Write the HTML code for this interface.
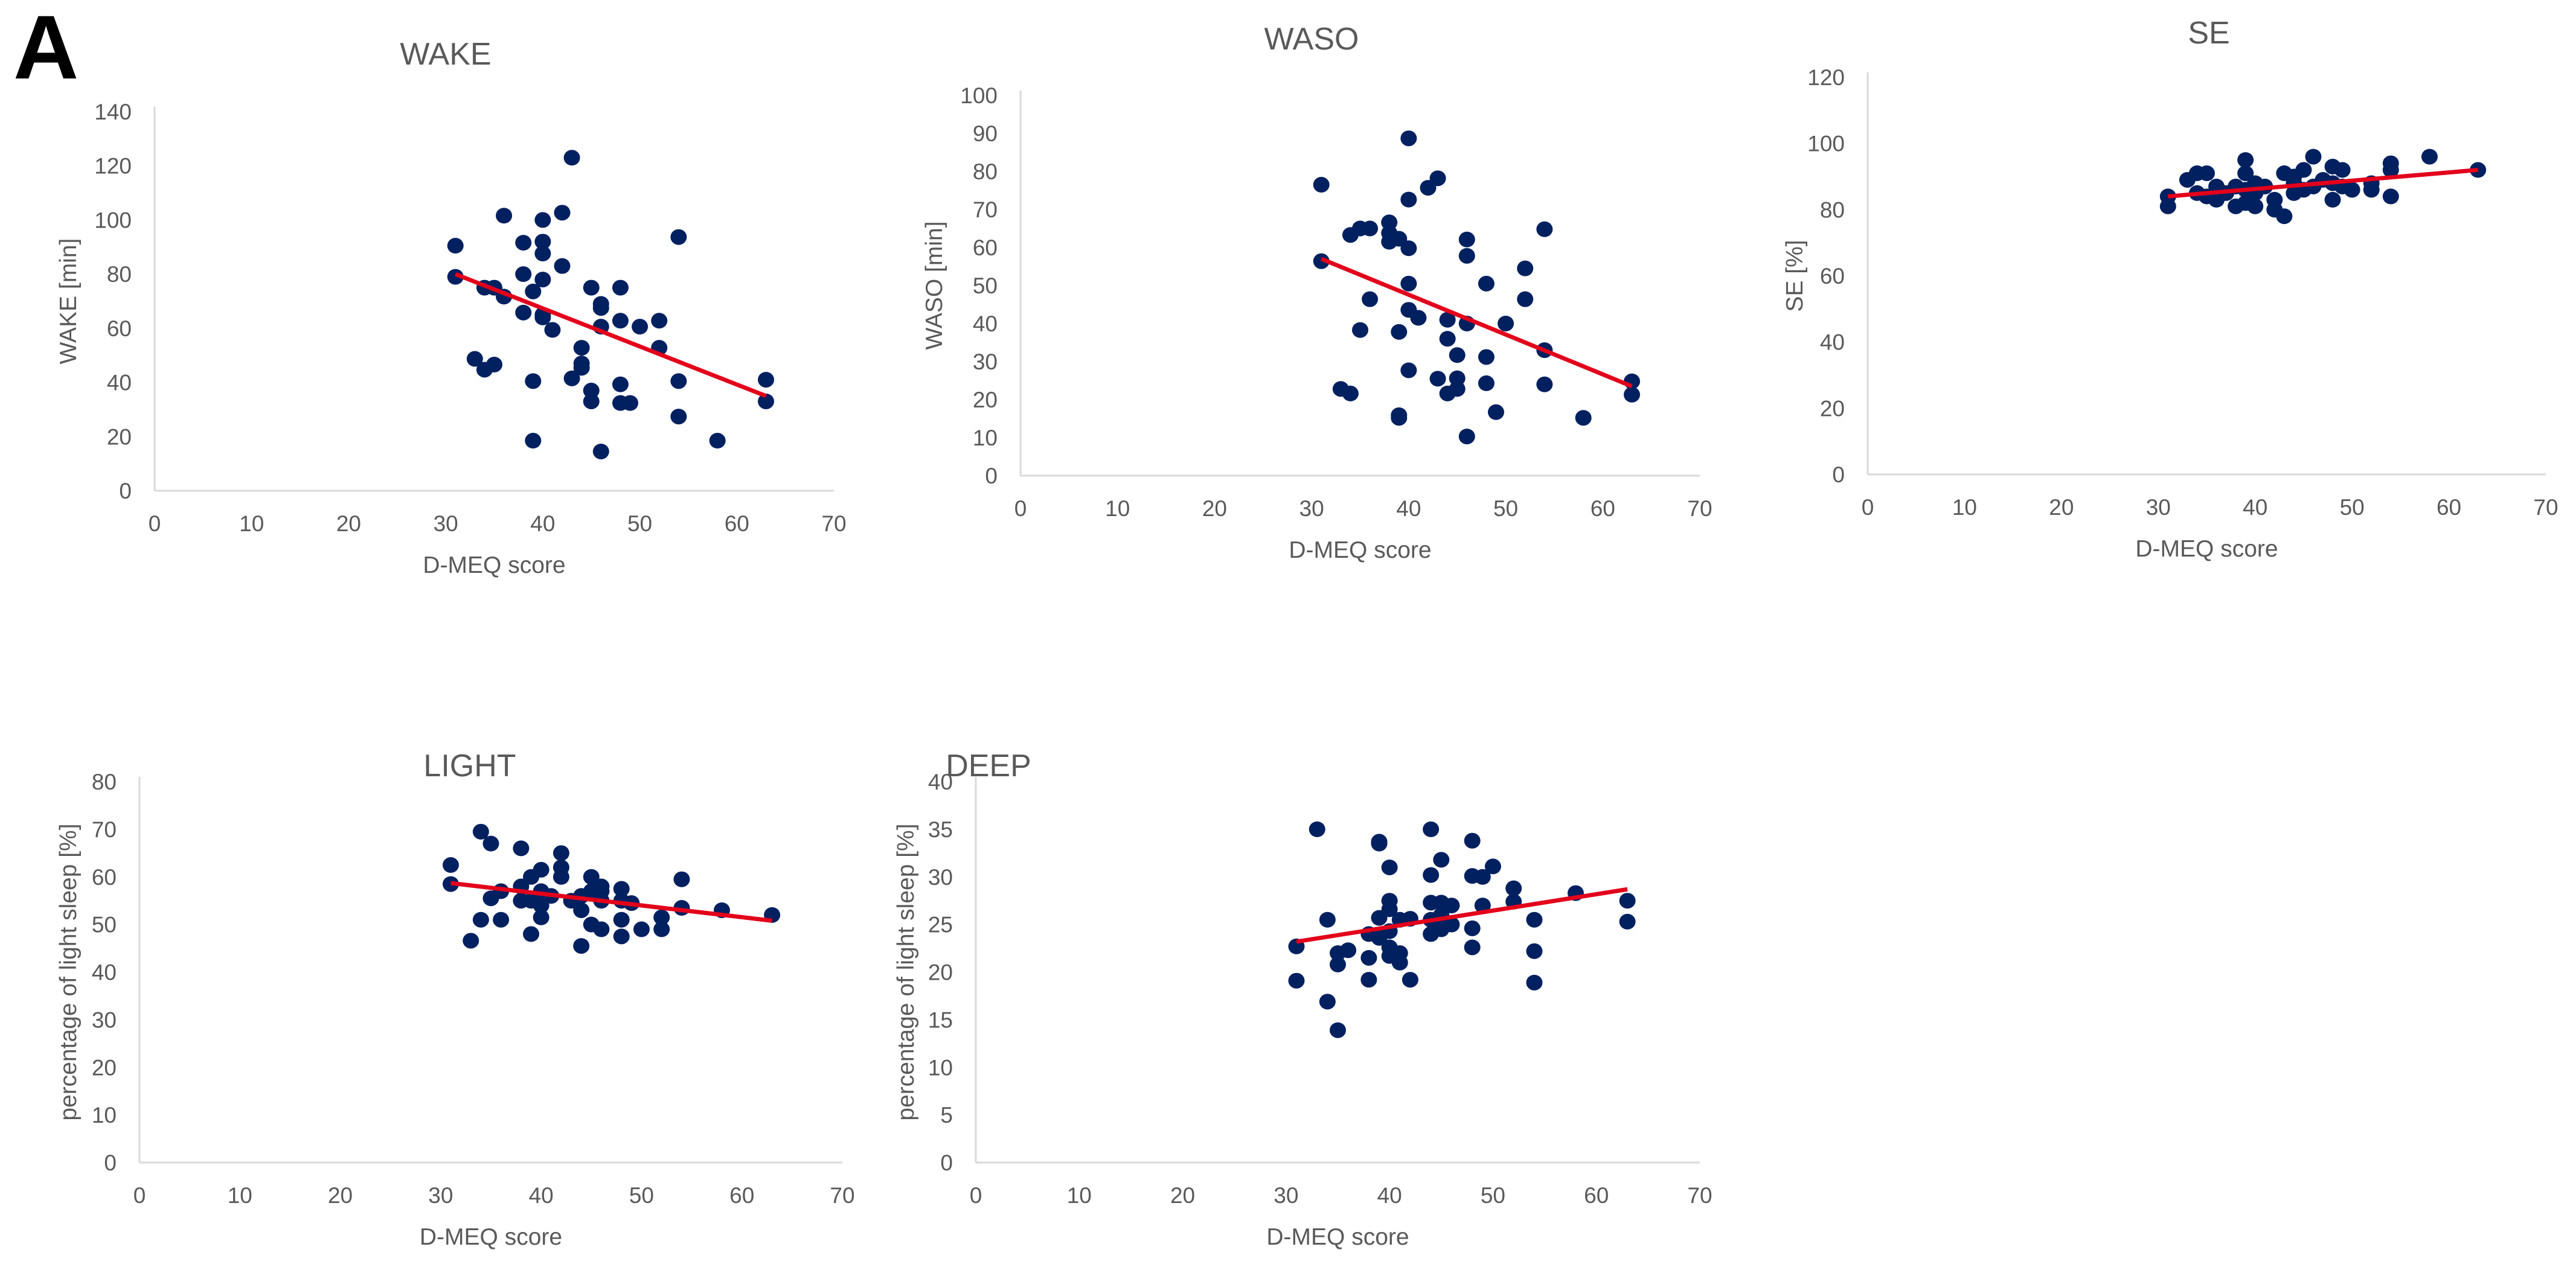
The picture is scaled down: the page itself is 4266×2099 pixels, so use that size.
<!DOCTYPE html>
<html><head><meta charset="utf-8"><style>
html,body{margin:0;padding:0;background:#fff;}
svg{display:block;font-family:"Liberation Sans",sans-serif;}
</style></head><body>
<svg id="fig" width="4266" height="2099" viewBox="0 0 4266 2099">
<text x="22" y="130" font-size="150" font-weight="bold" fill="#000">A</text>
</svg>
<script>
// shared x tick labels
const xTicks = [0,10,20,30,40,50,60,70];
const trendX = [31,63];

const wakeX = [31,31,33,34,35,34,35,36,36,38,38,38,39,39,39,40,40,40,40,40,40,41,42,42,43,43,44,44,44,45,45,45,46,46,46,46,48,48,48,48,49,50,52,52,54,54,54,58,63,63];
const wakeY = [90.5,79,48.7,44.7,46.6,75,75,71.7,101.6,91.6,80,65.8,73.6,40.5,18.5,100,92,87.6,78,65,64,59.4,102.7,83,123,41.5,52.8,47,45.4,75,37,33,69,67.5,60.6,14.5,75,62.8,39.3,32.4,32.4,60.6,62.8,52.8,93.7,40.5,27.4,18.5,41,33];
const wakeTrend = [80,35];
const wakeTicks = [0,20,40,60,80,100,120,140];

const wasoX = [31,31,33,34,34,35,36,35,36,38,38,38,39,39,39,39,40,40,40,40,40,41,40,42,43,43,44,44,44,45,45,45,46,46,46,46,48,48,48,49,50,52,52,54,54,54,58,63,63];
const wasoY = [76.5,56.4,22.8,21.6,63.3,65,65,38.3,46.4,66.6,63.8,61.5,62.3,37.8,15.9,15.2,88.7,72.6,59.8,50.5,43.6,41.5,27.7,75.7,78.2,25.5,41,36,21.6,31.7,25.6,22.8,62.1,57.8,40,10.3,50.5,31.2,24.3,16.7,40,54.5,46.4,64.8,33,24,15.2,24.8,21.3];
const wasoTrend = [57,23.5];
const wasoTicks = [0,10,20,30,40,50,60,70,80,90,100];

const seX = [31,31,33,34,34,35,35,36,36,37,38,38,39,39,39,39,40,40,40,41,42,42,43,43,44,44,44,45,45,46,46,47,48,48,48,49,49,50,52,52,54,54,54,58,63];
const seY = [84,81,89,91,85,91,84,87,83,85,87,81,95,91,86,82,88,85,81,87,83,80,78,91,90,88,85,92,86,96,87,89,93,88,83,92,87,86,88,86,94,92,84,96,92];
const seTrend = [84,92];
const seTicks = [0,20,40,60,80,100,120];

const lightX = [31,31,33,34,34,35,35,36,36,38,38,38,39,39,39,40,40,40,40,41,42,42,42,43,44,44,44,45,45,45,46,46,46,46,48,48,48,48,49,50,52,52,54,54,58,63];
const lightY = [62.5,58.5,46.6,69.5,51,67,55.5,57,51,66,58,55,60,55,48,61.5,57,54,51.5,56,65,60,62,55,45.5,53,56,60,57,50,58,57,55,49,57.5,55,51,47.5,54.5,49,51.5,49,59.5,53.5,53,52];
const lightTrend = [58.7,50.8];
const lightTicks = [0,10,20,30,40,50,60,70,80];

const deepX = [31,31,33,34,34,35,35,35,36,38,38,38,39,39,39,39,40,40,40,40,40,40,41,41,41,42,42,44,44,44,44,44,45,45,45,45,46,46,48,48,48,48,49,49,50,52,52,54,54,54,58,63,63];
const deepY = [22.7,19.1,35,25.5,16.9,13.9,22,20.8,22.3,21.5,19.2,24,33.7,33.5,25.7,23.6,31,27.5,26.6,24.3,22.6,21.7,25.5,21,22,19.2,25.6,35,30.2,27.3,25.5,24,31.8,27.3,26,24.5,27,25,33.8,30.1,24.6,22.6,30,27,31.1,28.8,27.4,25.5,22.2,18.9,28.3,27.5,25.3];
const deepTrend = [23.2,28.7];
const deepTicks = [0,5,10,15,20,25,30,35,40];

const NS = "http://www.w3.org/2000/svg";
const svg = document.getElementById('fig');
function mk(tag, attrs, parent){
  const e = document.createElementNS(NS, tag);
  for (const k in attrs) e.setAttribute(k, attrs[k]);
  (parent||svg).appendChild(e);
  return e;
}
function chart(c){
  const g = mk('g', {});
  
  
  const yMax = c.yTicks[c.yTicks.length-1];
  const sx = v => c.x0 + (c.x1 - c.x0) * v / 70;
  const sy = v => c.y0 - (c.y0 - c.yTop) * v / yMax;
  // axes
  const ya = mk('line', {x1:c.x0, y1:c.yTop-8, x2:c.x0, y2:c.y0, stroke:'#d9d9d9', 'stroke-width':3}, g);
  
  
  const xa = mk('line', {x1:c.x0, y1:c.y0, x2:c.x1, y2:c.y0, stroke:'#d9d9d9', 'stroke-width':3}, g);
  
  
  c.yTicks.forEach(t => {
    const tx = mk('text', {x:c.x0-38, y:sy(t)+13, 'text-anchor':'end', 'font-size':37, fill:'#595959'}, g);
    tx.textContent = t;
    
    
  });
  xTicks.forEach(t => {
    const tx = mk('text', {x:sx(t), y:c.y0+67, 'text-anchor':'middle', 'font-size':37, fill:'#595959'}, g);
    tx.textContent = t;
    
    
  });
  const ttl = mk('text', {x:c.tx, y:c.ty, 'text-anchor':'middle', 'font-size':52, fill:'#595959'}, g);
  ttl.textContent = c.title;
  
  
  const xl = mk('text', {x:(c.x0+c.x1)/2, y:c.y0+136, 'text-anchor':'middle', 'font-size':39, fill:'#595959'}, g);
  xl.textContent = 'D-MEQ score';
  
  
  const ylx = c.ylx, yly = (c.y0 + c.yTop)/2;
  const yl = mk('text', {x:ylx, y:yly, 'text-anchor':'middle', 'font-size':39, fill:'#595959', transform:`rotate(-90 ${ylx} ${yly})`}, g);
  yl.textContent = c.ylabel;
  
  
  c.xs.forEach((xv, i) => {
    const p = mk('ellipse', {cx:sx(xv), cy:sy(c.ys[i]), rx:13.5, ry:13, fill:'#002060'}, g);
    
    
  });
  const tl = mk('line', {x1:sx(trendX[0]), y1:sy(c.trend[0]), x2:sx(trendX[1]), y2:sy(c.trend[1]), stroke:'#e3001b', 'stroke-width':7}, g);
  
  
}
chart({name:'wake', title:'WAKE', ylabel:'WAKE [min]', xs:wakeX, ys:wakeY, trend:wakeTrend, yTicks:wakeTicks,
  x0:256, x1:1381, y0:813, yTop:185, tx:738, ty:107, ylx:126});
chart({name:'waso', title:'WASO', ylabel:'WASO [min]', xs:wasoX, ys:wasoY, trend:wasoTrend, yTicks:wasoTicks,
  x0:1690, x1:2815, y0:788, yTop:158, tx:2172, ty:82, ylx:1560});
chart({name:'se', title:'SE', ylabel:'SE [%]', xs:seX, ys:seY, trend:seTrend, yTicks:seTicks,
  x0:3093, x1:4216, y0:786, yTop:128, tx:3658, ty:72, ylx:2985});
chart({name:'light', title:'LIGHT', ylabel:'percentage of light sleep [%]', xs:lightX, ys:lightY, trend:lightTrend, yTicks:lightTicks,
  x0:231, x1:1395, y0:1926, yTop:1295, tx:778, ty:1286, ylx:126});
chart({name:'deep', title:'DEEP', ylabel:'percentage of light sleep [%]', xs:deepX, ys:deepY, trend:deepTrend, yTicks:deepTicks,
  x0:1616, x1:2815, y0:1926, yTop:1295, tx:1637, ty:1286, ylx:1513});
</script>
</body></html>
